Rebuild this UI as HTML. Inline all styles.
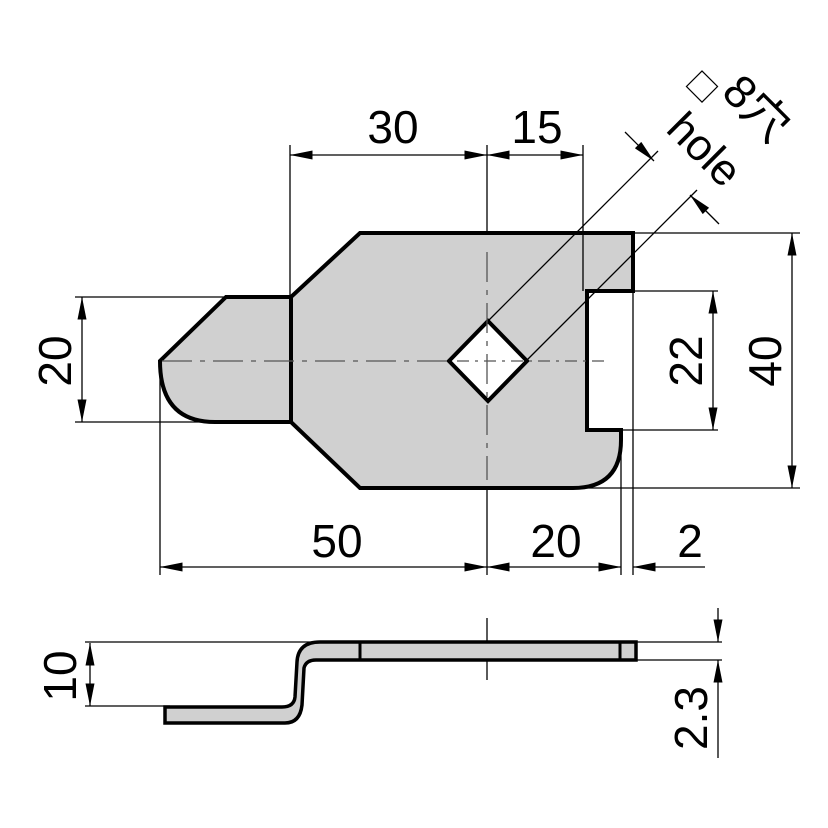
<!DOCTYPE html>
<html><head><style>body{margin:0;background:#fff}svg{display:block}</style></head><body>
<svg width="828" height="828" viewBox="0 0 828 828" xmlns="http://www.w3.org/2000/svg" font-family="Liberation Sans, Noto Sans CJK JP, sans-serif">
<defs>
<marker id="a" viewBox="0 0 10 4" refX="10" refY="2" markerWidth="24" markerHeight="9" markerUnits="userSpaceOnUse" orient="auto-start-reverse"><path d="M0,0L10,2L0,4z" fill="#000"/></marker>
</defs>
<g stroke="#000" stroke-width="1.3" fill="none">
<line x1="290" y1="145" x2="290" y2="297"/>
<line x1="487" y1="145" x2="487" y2="233"/>
<line x1="75" y1="297" x2="226" y2="297"/>
<line x1="75" y1="422" x2="215" y2="422"/>
<line x1="633" y1="233" x2="800" y2="233"/>
<line x1="578" y1="488" x2="800" y2="488"/>
<line x1="633" y1="291" x2="718" y2="291"/>
<line x1="621" y1="430" x2="718" y2="430"/>
<line x1="160" y1="361" x2="160" y2="575"/>
<line x1="487" y1="488" x2="487" y2="575"/>
<line x1="621" y1="430" x2="621" y2="575"/>
<line x1="633" y1="291" x2="633" y2="575"/>
<line x1="290" y1="155" x2="487" y2="155" marker-start="url(#a)" marker-end="url(#a)"/>
<line x1="487" y1="155" x2="583" y2="155" marker-start="url(#a)" marker-end="url(#a)"/>
<line x1="82" y1="297" x2="82" y2="422" marker-start="url(#a)" marker-end="url(#a)"/>
<line x1="713" y1="291" x2="713" y2="430" marker-start="url(#a)" marker-end="url(#a)"/>
<line x1="792" y1="233" x2="792" y2="488" marker-start="url(#a)" marker-end="url(#a)"/>
<line x1="160" y1="567" x2="487" y2="567" marker-start="url(#a)" marker-end="url(#a)"/>
<line x1="487" y1="567" x2="621" y2="567" marker-start="url(#a)" marker-end="url(#a)"/>
<line x1="660" y1="567" x2="633" y2="567" marker-end="url(#a)"/>
<line x1="660" y1="567" x2="705" y2="567"/>
</g>
<path d="M360,233 L633,233 L633,291 L587,291 L587,430 L621,430 L621,440 Q621,488 573,488 L360,488 L291,422 L215,422 Q160,422 160,361 L226,297 L291,297 Z" fill="#d0d0d0" stroke="#000" stroke-width="4" stroke-linejoin="miter"/>
<line x1="291" y1="297" x2="291" y2="422" stroke="#000" stroke-width="4"/>
<path d="M488,321 L527,361 L488,401 L449,361 Z" fill="#fff" stroke="#000" stroke-width="4"/>
<g stroke="#555" stroke-width="1.3" stroke-dasharray="30,8,5,8">
<line x1="162" y1="361" x2="449" y2="361"/>
<line x1="487" y1="252" x2="487" y2="480"/>
</g>
<line x1="457" y1="361" x2="610" y2="361" stroke="#555" stroke-width="1.3" stroke-dasharray="12,6,3,6"/>
<g stroke="#000" stroke-width="1.3" fill="none">
<line x1="583" y1="145" x2="583" y2="291"/>
<line x1="488" y1="321" x2="658" y2="151"/>
<line x1="527" y1="360" x2="697" y2="190"/>
<line x1="625" y1="132" x2="654" y2="161" marker-end="url(#a)"/>
<line x1="719" y1="224" x2="690" y2="195" marker-end="url(#a)"/>
</g>
<g stroke="#000" stroke-width="1.3">
<line x1="85" y1="642" x2="330" y2="642"/>
<line x1="85" y1="706" x2="170" y2="706"/>
<line x1="636" y1="642" x2="722" y2="642"/>
<line x1="636" y1="660" x2="722" y2="660"/>
<line x1="487" y1="618" x2="487" y2="680"/>
<line x1="90" y1="643" x2="90" y2="706" marker-start="url(#a)" marker-end="url(#a)"/>
<line x1="718" y1="608" x2="718" y2="642" marker-end="url(#a)"/>
<line x1="718" y1="758" x2="718" y2="660" marker-end="url(#a)"/>
</g>
<path d="M165,707 L165,723 L285,723 Q300,723 302,705 L304,668 Q306,660 316,660 L636,660 L636,642 L320,642 Q298,642 297,662 L295,697 Q294,707 282,707 Z" fill="#d0d0d0" stroke="#000" stroke-width="3.5"/>
<line x1="360" y1="642" x2="360" y2="660" stroke="#000" stroke-width="3"/>
<line x1="620" y1="642" x2="620" y2="660" stroke="#000" stroke-width="3"/>
<g font-size="46" fill="#000" text-anchor="middle">
<text x="393" y="143">30</text>
<text x="537" y="143">15</text>
<text x="337" y="557">50</text>
<text x="556" y="557">20</text>
<text x="690" y="557">2</text>
<text transform="translate(71,361) rotate(-90)">20</text>
<text transform="translate(702,361) rotate(-90)">22</text>
<text transform="translate(781,361) rotate(-90)">40</text>
<text transform="translate(76,676) rotate(-90)">10</text>
<text transform="translate(707,718) rotate(-90)">2.3</text>
<text font-size="44" transform="translate(694,160) rotate(45)">hole</text>
</g>
<rect x="0" y="0" width="22" height="22" fill="none" stroke="#000" stroke-width="1.2" transform="translate(702,71) rotate(45)"/>
<text font-size="46" transform="translate(720,94) rotate(45)" fill="#000">8穴</text>
</svg>
</body></html>
